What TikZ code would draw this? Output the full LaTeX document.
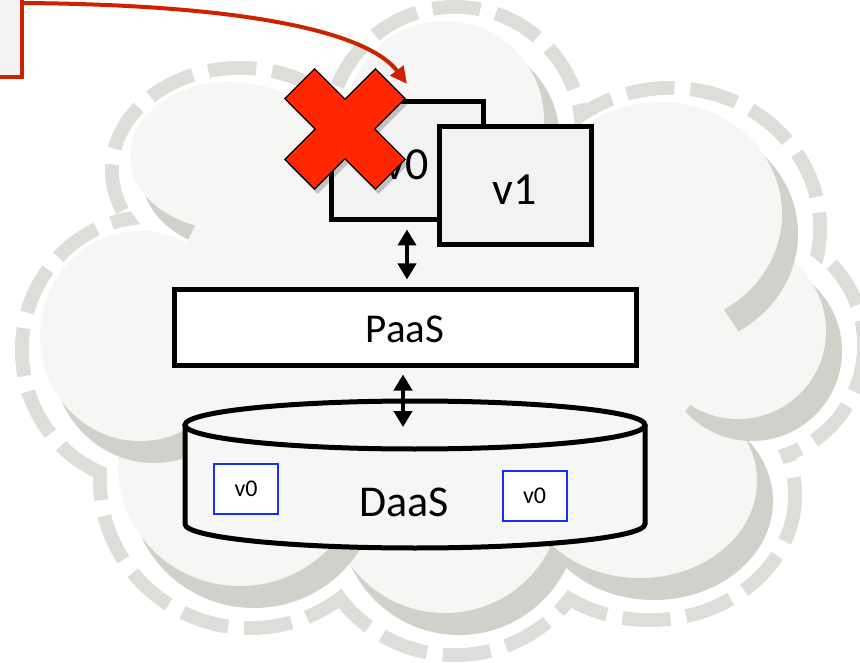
\documentclass[tikz,border=0pt]{standalone}
\usepackage{fontspec}
\setmainfont{Carlito}
\usepackage{xcolor}
\usepackage{tikz}
\usetikzlibrary{arrows.meta}

\definecolor{cloudfill}{RGB}{246,246,245}
\definecolor{cloudshade}{RGB}{209,209,204}
\definecolor{clouddash}{RGB}{221,221,217}
\definecolor{boxgray}{RGB}{242,242,242}
\definecolor{crossred}{RGB}{255,38,0}
\definecolor{linkred}{RGB}{204,34,0}
\definecolor{copyblue}{RGB}{25,45,255}

\tikzset{
	vbox/.style = {draw, line width=5pt, fill=boxgray, inner sep=0pt,
		minimum width=152pt, minimum height=118pt,
		text height=38pt, text depth=0pt, font=\fontsize{46}{50}\selectfont},
	layerbox/.style = {draw, line width=5pt, fill=white, inner sep=0pt,
		minimum width=462pt, minimum height=75pt,
		text height=29pt, text depth=0pt, font=\fontsize{41}{45}\selectfont},
	copybox/.style = {draw=copyblue, line width=2pt, fill=white, inner sep=0pt,
		minimum width=64pt, minimum height=50pt, font=\fontsize{24}{28}\selectfont},
	notebox/.style = {draw=linkred, line width=4pt, fill=boxgray,
		minimum width=104pt, minimum height=148pt},
	updown/.style = {line width=4pt, {Triangle[width=18pt,length=16pt]}-{Triangle[width=18pt,length=16pt]}},
	link/.style = {draw=linkred, line width=4pt, -{Triangle[width=16pt,length=17pt]}}
}

% bumps of the cloud: centre x/centre y/x radius/y radius
\def\bumps{240/170/128/102, 455/134/127/127, 455/510/145/145, 650/495/145/125,
	748/345/116/116, 670/228/150/140, 250/480/150/148, 150/350/128/133}

\begin{document}
\begin{tikzpicture}[x=1pt, y=-1pt]
			\useasboundingbox (0,0) rectangle (860,663);
			\clip (0,0) rectangle (860,663);
			\fill [white] (0,0) rectangle (860,663);

			% cloud
			\foreach \cx/\cy/\rx/\ry in \bumps
			{
				\draw [clouddash, line width=14pt, dash pattern=on 48pt off 16pt] (\cx,\cy) ellipse [x radius=\rx, y radius=\ry];
			}

			\foreach \cx/\cy/\rx/\ry in \bumps
			{
				\fill [white] (\cx,\cy) ellipse [x radius=\rx-7, y radius=\ry-7];
			}
			\fill [white] (240,170) -- (455,134) -- (670,228) -- (748,345) -- (650,495) -- (455,510) -- (250,480) -- (150,350) -- cycle;

			\foreach \cx/\cy/\rx/\ry in \bumps
			{
				\fill [cloudshade] (\cx+4,\cy+6) ellipse [x radius=\rx-26, y radius=\ry-26];
				\fill [cloudfill] (\cx-10,\cy-14) ellipse [x radius=\rx-28, y radius=\ry-28];
			}
			\fill [cloudfill] (230,156) -- (445,120) -- (660,214) -- (738,331) -- (640,481) -- (445,496) -- (240,466) -- (140,336) -- cycle;

			% old version, crossed out
			\node [vbox] (vold) at (407,161) {v0};

			\begin{scope}[shift={(348,134)}, rotate=45]
				\fill [black, opacity=0.2] (21,21) -- (64,21) -- (64,-21) -- (21,-21) -- (21,-64) -- (-21,-64) -- (-21,-21) -- (-64,-21) -- (-64,21) -- (-21,21) -- (-21,64) -- (21,64) -- cycle;
			\end{scope}
			\begin{scope}[shift={(345,129)}, rotate=45]
				\filldraw [fill=crossred, draw=black, line width=1.2pt] (21,21) -- (64,21) -- (64,-21) -- (21,-21) -- (21,-64) -- (-21,-64) -- (-21,-21) -- (-64,-21) -- (-64,21) -- (-21,21) -- (-21,64) -- (21,64) -- cycle;
			\end{scope}

			\node [vbox] (vnew) at (515,186) {v1};

			\node [layerbox] (paas) at (405,327.5) {PaaS};

			\draw [updown, shorten <=7pt, shorten >=8pt] (vold.south) -- (vold.south |- paas.north);

			% storage
			\filldraw [line width=5pt, fill=cloudfill] (185,425) -- (185,524) arc [start angle=180, end angle=360, x radius=230pt, y radius=24pt] -- (645,425);
			\filldraw [line width=5pt, fill=cloudfill] (415,425) ellipse [x radius=230, y radius=24];

			\node [font=\fontsize{44}{48}\selectfont] (daas) at (404,502) {DaaS};
			\node [copybox] (copyl) at (246,489) {v0};
			\node [copybox] (copyr) at (534.5,496) {v0};

			\coordinate (dtop) at (403,427);
			\draw [updown, shorten <=7pt] (paas.south -| dtop) -- (dtop);

			% pointer from the note
			\node [notebox] (note) at (-30,3) {};
			\coordinate (hit) at (407,84);
			\draw [link] (note.east) .. controls (260,5) and (370,35) .. (hit);
		\end{tikzpicture}
\end{document}
